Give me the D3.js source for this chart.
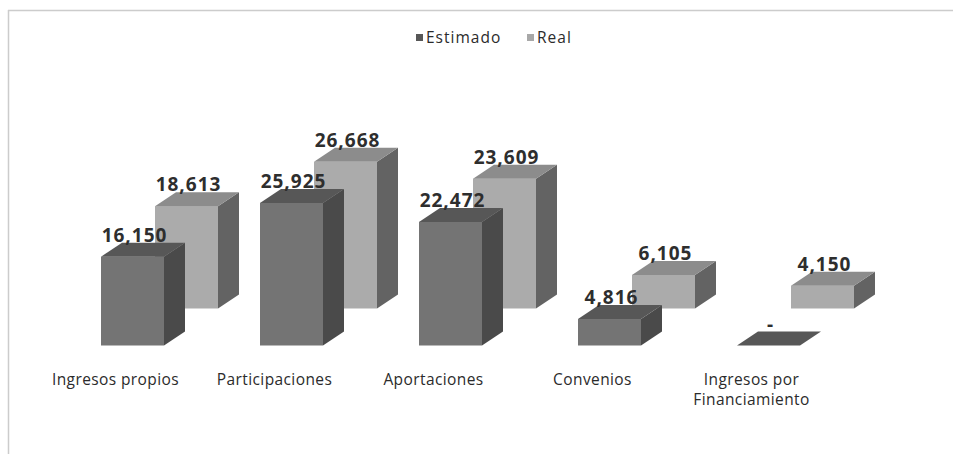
<html>
<head>
<meta charset="utf-8">
<script src="https://d3js.org/d3.v7.min.js"></script>
<style>
body { margin: 0; background: white; }
svg { display: block; }
.cat { font-family: "Open Sans", sans-serif; font-size: 15.5px; fill: #2b2b2b; letter-spacing: 0.4px; }
.val { font-family: "Open Sans", sans-serif; font-size: 19px; font-weight: bold; fill: #2e2e2e; letter-spacing: 1px; }
.leg { font-family: "Open Sans", sans-serif; font-size: 15.5px; fill: #2b2b2b; letter-spacing: 1px; }
</style>
</head>
<body>
<svg width="953" height="454"></svg>
<script>
// data
var categories = ["Ingresos propios", "Participaciones", "Aportaciones", "Convenios", "Ingresos por\nFinanciamiento"];
var estimado = [16150, 25925, 22472, 4816, 0];
var real = [18613, 26668, 23609, 6105, 4150];
var seriesNames = ["Estimado", "Real"];

var svg = d3.select("svg");

// frame (only top and left edges visible in the scan)
svg.append("line").attr("x1", 8).attr("y1", 10.5).attr("x2", 953).attr("y2", 10.5)
   .attr("stroke", "#cccccc").attr("stroke-width", 1.5);
svg.append("line").attr("x1", 8.5).attr("y1", 10).attr("x2", 8.5).attr("y2", 454)
   .attr("stroke", "#cccccc").attr("stroke-width", 1.5);

var barW = 63, dx = 21, dy = -14;
var realShiftX = 54;

var x = d3.scalePoint().domain(categories).range([101, 737]);
var h = d3.scaleLinear().domain([0, 30000]).range([0, 165]);

var series = [
  {name: "Real", values: real, base: 308.5, shift: realShiftX,
   front: "#ababab", side: "#636363", top: "#8c8c8c"},
  {name: "Estimado", values: estimado, base: 345.5, shift: 0,
   front: "#747474", side: "#4a4a4a", top: "#575757"}
];

function boxes(s) {
  return categories.map(function(c, i) {
    var x0 = x(c) + s.shift;
    var yTop = s.base - h(s.values[i]);
    return {x0: x0, x1: x0 + barW, yTop: yTop, yBot: s.base, v: s.values[i]};
  });
}

series.forEach(function(s) {
  var g = svg.append("g");
  var data = boxes(s);
  var b = g.selectAll("g.bar").data(data).enter().append("g").attr("class", "bar");
  // side face
  b.append("path").attr("fill", s.side)
   .attr("d", function(d) {
     return "M" + d.x1 + "," + d.yBot + "L" + (d.x1 + dx) + "," + (d.yBot + dy) +
            "L" + (d.x1 + dx) + "," + (d.yTop + dy) + "L" + d.x1 + "," + d.yTop + "Z";
   });
  // front face
  b.append("rect").attr("fill", s.front)
   .attr("x", function(d) { return d.x0; })
   .attr("y", function(d) { return d.yTop; })
   .attr("width", barW)
   .attr("height", function(d) { return d.yBot - d.yTop; });
  // top face
  b.append("path").attr("fill", s.top)
   .attr("d", function(d) {
     return "M" + d.x0 + "," + d.yTop + "L" + d.x1 + "," + d.yTop +
            "L" + (d.x1 + dx) + "," + (d.yTop + dy) + "L" + (d.x0 + dx) + "," + (d.yTop + dy) + "Z";
   });
});

// value labels on top
series.forEach(function(s) {
  svg.append("g").selectAll("text").data(boxes(s)).enter().append("text")
    .attr("class", "val")
    .attr("text-anchor", "middle")
    .attr("x", function(d) { return d.x0 + barW / 2 + 2; })
    .attr("y", function(d) { return d.yTop + dy - 1; })
    .text(function(d) { return d.v === 0 ? "-" : d3.format(",")(d.v); });
});

// category labels
var cl = svg.append("g").selectAll("text").data(categories).enter().append("text")
  .attr("class", "cat")
  .attr("text-anchor", "middle")
  .attr("x", function(d) { return x(d) + barW / 2 - 17; })
  .attr("y", 385);
cl.selectAll("tspan").data(function(d) { return d.split("\n"); }).enter().append("tspan")
  .attr("x", function() { return d3.select(this.parentNode).attr("x"); })
  .attr("dy", function(d, i) { return i === 0 ? 0 : 20; })
  .text(function(d) { return d; });

// legend
var legX = [416, 527];
var legColors = ["#575757", "#a8a8a8"];
var leg = svg.append("g").selectAll("g").data(seriesNames).enter().append("g");
leg.append("rect")
  .attr("x", function(d, i) { return legX[i]; })
  .attr("y", 34).attr("width", 7).attr("height", 7)
  .attr("fill", function(d, i) { return legColors[i]; });
leg.append("text").attr("class", "leg")
  .attr("x", function(d, i) { return legX[i] + 10; })
  .attr("y", 43)
  .text(function(d) { return d; });
</script>
</body>
</html>
